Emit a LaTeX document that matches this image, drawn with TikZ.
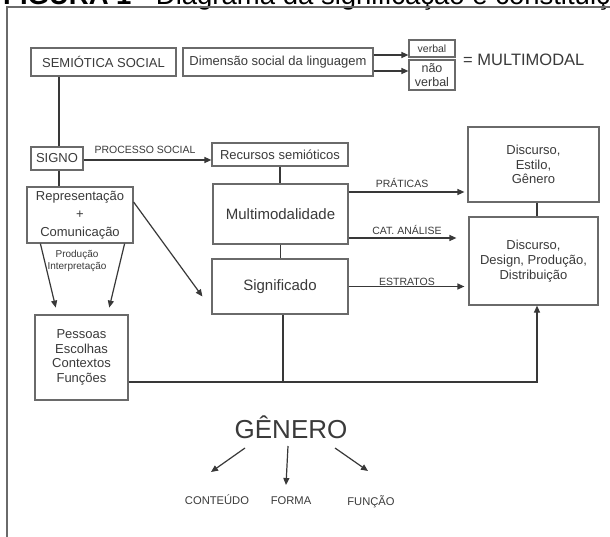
\documentclass[tikz,border=0pt]{standalone}
\usepackage{fontspec}
\setmainfont{Liberation Sans}
\usetikzlibrary{arrows.meta}
\definecolor{boxc}{HTML}{6A6A6A}
\definecolor{txtc}{HTML}{3A3A3A}
\definecolor{linec}{HTML}{383838}
\newcommand{\fsz}[2]{\fontsize{#1}{#2}\selectfont}
\begin{document}
\begin{tikzpicture}[x=1pt,y=-1pt,
  dbox/.style n args={2}{draw=boxc, line width=1.2pt, text=txtc, inner sep=0pt,
    align=center, minimum width=#1, minimum height=#2},
  ln/.style={draw=linec, line width=1.2pt},
  arr/.style={draw=linec, line width=1.2pt, -{Triangle[length=7pt,width=6pt]}},
  lab/.style={text=txtc, inner sep=0pt, anchor=base, font=\fsz{10.5}{12}},
  captxt/.style={text=txtc, inner sep=0pt, anchor=base, font=\fsz{11.2}{13}}]
\useasboundingbox (0,0) rectangle (610,537);
\clip (0,0) rectangle (610,537);
\fill[white] (0,0) rectangle (610,537);
% title (cut off at the top) and frame
\node[anchor=base west, inner sep=0pt, font=\fsz{27.5}{30}] (title) at (3,5)
  {\textbf{FIGURA 1} - Diagrama da significação e constituição};
\draw[draw=boxc, line width=1.3pt] (7,545) -- (7,7) -- (620,7);
% boxes
\node[dbox={145pt}{28pt}, font=\fsz{13}{15}] (sem) at (103.5,62) {SEMIÓTICA SOCIAL};
\node[dbox={190pt}{28pt}, font=\fsz{13}{15}] (dim) at (278,62) {Dimensão social da linguagem};
\node[dbox={46pt}{17pt}, font=\fsz{10.5}{12}] (verb) at (432,48.5) {verbal};
\node[dbox={46pt}{30pt}, font=\fsz{12.5}{14}] (nverb) at (432,75) {não\\verbal};
\node[text=txtc, anchor=west, inner sep=0pt, font=\fsz{16.5}{18}] (mm) at (463,60) {= MULTIMODAL};
\node[dbox={52pt}{23pt}, font=\fsz{13}{15}] (signo) at (57,158.5) {SIGNO};
\node[dbox={136pt}{23pt}, font=\fsz{13}{15}] (rec) at (280,154.5) {Recursos semióticos};
\node[dbox={106pt}{56pt}, font=\fsz{13}{18}] (rep) at (80,215) {Representação\\+\\Comunicação};
\node[dbox={135pt}{60pt}, font=\fsz{15}{17}] (multi) at (280.5,214) {Multimodalidade};
\node[dbox={136pt}{55pt}, font=\fsz{15}{17}] (sig) at (280,286.5) {Significado};
\node[dbox={93pt}{85pt}, font=\fsz{13}{14.7}] (pes) at (81.5,357.5) {Pessoas\\Escolhas\\Contextos\\Funções};
\node[dbox={131pt}{75pt}, font=\fsz{13}{14.5}] (d1) at (533.5,164.5) {Discurso,\\Estilo,\\Gênero};
\node[dbox={129pt}{88pt}, font=\fsz{13}{15}] (d2) at (533.5,261) {Discurso,\\Design, Produção,\\Distribuição};
% labels
\node[lab] (ps) at (145,154) {PROCESSO SOCIAL};
\node[lab, font=\fsz{10}{12}] (prod) at (77,257.5) {Produção};
\node[lab, font=\fsz{10}{12}] (interp) at (77,269.5) {Interpretação};
\node[lab] (prat) at (402,188) {PRÁTICAS};
\node[lab] (cat) at (407,234.5) {CAT. ANÁLISE};
\node[lab] (est) at (407,285) {ESTRATOS};
% genre
\node[text=txtc, inner sep=0pt, anchor=base, font=\fsz{26}{30}] (gen) at (291,438) {GÊNERO};
\node[captxt] (cont) at (217,504) {CONTEÚDO};
\node[captxt] (forma) at (291,504) {FORMA};
\node[captxt] (func) at (371,505) {FUNÇÃO};
\coordinate (j) at (537,382);
% connectors
\draw[arr] ([yshift=-9]dim.east) -- ([yshift=-9]dim.east -| verb.west);
\draw[arr] ([yshift=7]dim.east) -- ([yshift=7]dim.east -| nverb.west);
\draw[ln] ([xshift=2]signo.north) -- ([xshift=2]signo.north |- sem.south);
\draw[ln] ([xshift=2]signo.south) -- ([xshift=2]signo.south |- rep.north);
\draw[arr] ([yshift=-1.5]signo.east) -- ([yshift=-1.5]signo.east -| rec.west);
\draw[ln] (rec.south) -- (rec.south |- multi.north);
\draw[ln] (multi.south) -- (multi.south |- sig.north);
\draw[arr, shorten >=7pt] ([xshift=14]rep.south west) -- ([xshift=23]pes.north west);
\draw[arr, shorten >=7pt] ([xshift=-9]rep.south east) -- ([xshift=-21]pes.north east);
\draw[arr] ([yshift=13]rep.east) -- ([xshift=-9,yshift=-10]sig.west);
\draw[arr, shorten >=11pt] ([yshift=-24]multi.east) -- ([yshift=-24]multi.east -| d1.west);
\draw[arr, shorten >=4pt] ([yshift=22]multi.east) -- ([yshift=22]multi.east -| d2.west);
\draw[arr, shorten >=4pt] (sig.east) -- (sig.east -| d2.west);
\draw[ln] (d1.south -| j) -- (d2.north -| j);
\draw[ln] ([xshift=3]sig.south) -- ([xshift=3]sig.south |- j);
\draw[arr] (pes.east |- j) -- (j) -- (d2.south -| j);
\draw[arr] ([shift={(-46,10)}]gen.base) -- ([shift={(-6,-32)}]cont.base);
\draw[arr] ([shift={(-3,8)}]gen.base) -- ([shift={(-5,-19)}]forma.base);
\draw[arr] ([shift={(44,10)}]gen.base) -- ([shift={(-3,-34)}]func.base);
\end{tikzpicture}
\end{document}
